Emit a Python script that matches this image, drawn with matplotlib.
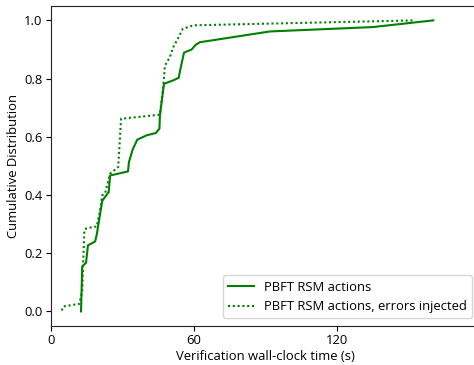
import matplotlib
matplotlib.use("Agg")
import matplotlib.pyplot as plt

# CDF of verification time
clean_time = [12.6, 13.1, 14.7, 15.5, 18.5, 19.2, 20.3, 21.5, 22.4, 24.2, 24.8,
              32.3, 32.7, 34.3, 36.2, 40.1, 44.0, 45.5, 45.7, 47.4, 51.3, 53.6,
              54.1, 55.8, 59.0, 60.7, 62.5, 91.9, 135.0, 160.4]
clean_cdf = [0.0, 0.155, 0.167, 0.227, 0.24, 0.264, 0.32, 0.38, 0.39, 0.41, 0.467,
             0.481, 0.513, 0.557, 0.59, 0.605, 0.613, 0.628, 0.673, 0.782, 0.794, 0.803,
             0.825, 0.889, 0.90, 0.916, 0.925, 0.962, 0.977, 1.0]

err_time = [4.5, 5.2, 11.9, 13.1, 14.0, 15.0, 19.2, 20.6, 21.5, 22.7, 24.8, 28.2,
            29.4, 45.7, 47.1, 47.8, 49.9, 51.3, 53.4, 55.3, 59.7, 91.9, 152.7]
err_cdf = [0.003, 0.017, 0.026, 0.072, 0.28, 0.286, 0.292, 0.347, 0.399, 0.406,
           0.473, 0.496, 0.662, 0.676, 0.771, 0.845, 0.874, 0.908, 0.94, 0.971,
           0.983, 0.989, 1.0]

plt.rcParams["font.family"] = ["Open Sans", "DejaVu Sans"]
plt.rcParams["font.size"] = 9.4
plt.rcParams["xtick.major.pad"] = 2.5
plt.rcParams["ytick.major.pad"] = 2.5

fig = plt.figure(figsize=(4.74, 3.65), dpi=100)
# axes runs a little past the right edge, as in the cropped original
ax = fig.add_axes([0.1076, 0.107, 0.905, 0.877])

ax.plot(clean_time, clean_cdf, color="green", lw=1.5, label="PBFT RSM actions")
ax.plot(err_time, err_cdf, color="green", lw=1.5, ls=(0, (1, 1.3)),
        label="PBFT RSM actions, errors injected")

ax.set_xlim(0, 180)
ax.set_ylim(-0.05, 1.05)
ax.set_xticks([0, 60, 120])
ax.set_yticks([0.0, 0.2, 0.4, 0.6, 0.8, 1.0])
ax.set_xlabel("Verification wall-clock time (s)", labelpad=2)
ax.set_ylabel("Cumulative Distribution", labelpad=3)
ax.legend(loc="lower right", borderaxespad=0.58)
for s in ax.spines.values():
    s.set_color("#222222")

fig.savefig("out.png", dpi=100)
